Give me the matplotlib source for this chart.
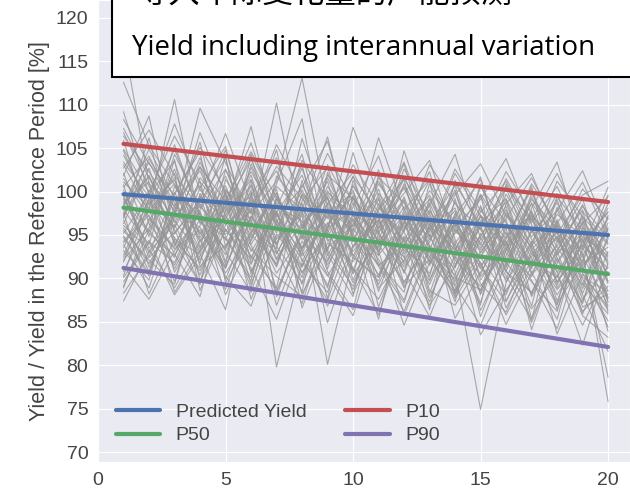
import matplotlib
matplotlib.use("Agg")
import matplotlib.pyplot as plt
import seaborn as sns
from matplotlib.patches import Rectangle

# simulated yearly yields [% of reference period], one row per run, years 1..20
years = list(range(1, 21))
sim_runs = [
    [104.2, 98.5, 101.3, 95.1, 99.8, 92.4, 97.6, 101.9, 94.3, 96.8, 90.2, 95.7, 99.1, 93.4, 88.6, 94.9, 97.3, 89.5, 93.8, 91.2],
    [96.3, 102.7, 93.8, 99.4, 91.6, 103.2, 96.5, 90.1, 98.7, 92.3, 97.9, 101.4, 89.8, 95.2, 99.6, 87.4, 92.8, 96.1, 88.3, 94.5],
    [92.1, 95.8, 105.4, 97.2, 94.6, 89.7, 101.8, 98.3, 93.1, 104.5, 95.4, 88.9, 96.2, 100.7, 91.5, 94.3, 86.8, 98.2, 92.6, 86.9],
    [100.8, 91.3, 97.5, 103.9, 96.2, 99.1, 88.6, 95.4, 101.2, 90.6, 93.8, 97.3, 92.5, 87.9, 96.4, 99.2, 90.7, 85.3, 95.9, 89.4],
    [98.4, 104.9, 99.2, 91.7, 102.5, 95.8, 93.4, 106.1, 97.5, 94.2, 100.3, 91.6, 95.9, 98.1, 90.2, 93.5, 97.6, 92.4, 87.1, 97.3],
    [89.6, 94.2, 91.8, 98.6, 93.1, 88.4, 96.7, 92.2, 87.5, 95.8, 91.4, 86.2, 93.7, 89.1, 84.6, 91.8, 88.3, 93.1, 85.7, 83.2],
    [107.3, 101.6, 96.4, 102.8, 98.9, 104.6, 99.3, 94.7, 103.1, 97.6, 95.2, 101.5, 96.8, 93.2, 99.7, 95.1, 91.3, 97.4, 94.8, 92.6],
    [94.7, 90.3, 99.9, 94.5, 88.7, 97.2, 91.5, 99.6, 90.8, 86.4, 98.2, 94.1, 87.3, 95.6, 92.4, 88.1, 95.5, 90.2, 96.4, 87.8],
    [101.5, 97.1, 93.6, 100.4, 105.2, 93.9, 98.8, 89.3, 95.9, 101.8, 92.7, 96.4, 102.3, 91.6, 94.8, 100.4, 93.2, 88.7, 92.1, 98.6],
    [95.2, 99.8, 88.4, 93.2, 97.4, 100.6, 94.1, 97.8, 84.9, 93.5, 99.1, 89.4, 94.6, 97.8, 86.3, 92.6, 98.7, 94.6, 89.9, 85.1],
    [112.6, 105.3, 100.8, 96.9, 91.3, 98.5, 102.4, 96.1, 99.4, 89.8, 96.5, 103.2, 93.1, 90.4, 97.3, 89.6, 94.1, 99.8, 91.4, 95.7],
    [90.8, 96.6, 102.1, 88.6, 95.7, 91.2, 85.3, 93.6, 97.2, 91.1, 87.6, 93.8, 98.4, 88.2, 93.1, 96.8, 85.4, 91.7, 97.2, 90.3],
    [99.3, 93.5, 97.1, 106.8, 99.6, 94.3, 100.9, 108.4, 92.6, 98.2, 104.1, 95.3, 90.2, 101.3, 95.6, 91.2, 99.4, 93.6, 89.2, 96.4],
    [97.6, 88.2, 94.5, 92.8, 86.4, 99.7, 93.2, 87.1, 96.3, 99.4, 88.9, 92.1, 96.7, 85.4, 90.7, 95.3, 89.8, 84.2, 93.5, 88.6],
    [103.4, 99.4, 107.8, 100.2, 96.8, 102.3, 97.1, 100.5, 105.8, 95.1, 101.6, 98.7, 94.5, 99.6, 103.2, 97.2, 93.6, 101.2, 97.1, 93.9],
    [93.5, 100.2, 95.6, 89.3, 101.4, 96.7, 90.6, 94.9, 89.2, 97.3, 93.1, 84.6, 91.8, 96.2, 89.4, 86.1, 93.3, 96.5, 91.2, 84.4],
    [88.3, 92.6, 97.3, 95.9, 90.2, 86.8, 95.1, 91.3, 98.1, 88.2, 94.6, 90.9, 85.6, 92.7, 97.1, 90.9, 86.5, 90.3, 84.6, 90.8],
    [105.9, 96.3, 92.4, 101.6, 97.9, 107.5, 95.6, 102.7, 94.7, 100.6, 96.2, 99.8, 103.6, 94.5, 88.3, 98.6, 102.1, 95.1, 99.6, 101.2],
    [96.9, 103.8, 98.7, 93.4, 104.1, 90.5, 99.2, 93.5, 101.6, 94.9, 85.3, 97.6, 92.4, 98.8, 93.8, 101.5, 96.2, 87.4, 94.3, 89.7],
    [91.4, 87.6, 93.2, 97.5, 92.7, 101.3, 87.9, 96.2, 90.4, 85.7, 95.3, 99.1, 88.6, 86.9, 91.9, 84.7, 90.6, 94.9, 88.1, 81.6],
    [102.1, 94.8, 104.3, 98.3, 95.1, 97.8, 105.4, 99.8, 96.9, 103.1, 98.4, 94.3, 100.1, 96.5, 92.3, 99.7, 94.8, 97.8, 102.4, 95.3],
    [98.8, 101.1, 90.7, 96.1, 100.7, 93.1, 97.8, 88.2, 93.6, 96.1, 102.5, 92.8, 97.2, 91.3, 99.5, 93.4, 89.6, 86.2, 95.4, 92.1],
    [87.4, 93.1, 96.2, 90.4, 97.8, 99.4, 92.3, 97.3, 80.1, 92.4, 90.1, 96.6, 87.8, 94.1, 83.5, 88.7, 92.5, 95.3, 86.7, 88.2],
    [109.2, 99.7, 103.5, 94.7, 100.3, 96.2, 110.2, 95.8, 99.9, 97.3, 93.5, 100.9, 95.3, 102.6, 97.8, 94.6, 100.3, 92.7, 96.3, 99.4],
    [94.1, 97.3, 89.6, 99.8, 94.4, 102.8, 96.1, 90.7, 95.3, 100.2, 91.8, 88.4, 99.3, 93.6, 87.2, 96.3, 91.1, 99.1, 90.6, 86.4],
    [100.2, 92.9, 99.8, 104.6, 89.5, 95.1, 91.7, 98.9, 102.8, 93.6, 97.4, 93.5, 90.6, 97.2, 101.4, 92.1, 97.8, 89.6, 93.9, 97.7],
    [97.1, 106.2, 94.3, 91.2, 96.6, 88.9, 99.5, 93.4, 97.6, 90.5, 99.8, 96.1, 92.1, 88.3, 94.5, 98.3, 87.9, 93.2, 98.5, 91.5],
    [93.2, 89.8, 100.6, 96.5, 93.5, 100.2, 79.8, 91.8, 88.4, 96.9, 92.2, 87.5, 95.8, 90.8, 74.9, 89.5, 95.6, 91.5, 87.3, 94.9],
    [106.4, 102.3, 97.7, 109.6, 103.3, 97.4, 101.2, 113.1, 98.2, 95.4, 106.2, 97.9, 101.4, 95.9, 99.1, 103.8, 96.4, 100.6, 94.2, 97.6],
    [90.3, 98.9, 92.8, 87.9, 99.2, 93.8, 88.4, 95.1, 91.9, 98.7, 86.7, 94.7, 89.3, 95.8, 91.3, 87.3, 93.9, 88.1, 92.7, 78.6],
    [99.9, 95.4, 102.6, 93.6, 97.3, 91.6, 98.2, 104.3, 93.2, 89.1, 95.7, 101.8, 94.9, 89.6, 96.7, 93.7, 99.1, 95.7, 85.9, 93.1],
    [95.8, 91.7, 96.9, 100.7, 91.9, 104.1, 93.7, 89.5, 99.7, 94.8, 90.4, 97.2, 86.4, 99.2, 88.1, 95.8, 84.1, 92.8, 96.9, 87.2],
    [101.8, 108.7, 95.1, 99.1, 106.7, 98.6, 93.9, 100.8, 95.5, 107.4, 99.6, 92.4, 98.5, 104.3, 94.6, 90.8, 98.1, 103.4, 93.5, 100.5],
    [89.1, 95.6, 91.5, 97.8, 88.1, 94.5, 100.3, 86.6, 94.1, 91.9, 97.3, 85.7, 93.4, 88.5, 95.2, 90.3, 85.2, 96.8, 89.4, 85.9],
    [117.5, 100.9, 98.4, 102.4, 95.4, 99.9, 96.4, 103.1, 91.1, 99.3, 94.1, 98.9, 91.7, 97.1, 93.5, 97.9, 92.3, 86.9, 97.7, 94.1],
    [96.1, 93.3, 88.9, 94.3, 99.5, 87.6, 94.8, 97.6, 92.8, 87.9, 101.9, 93.1, 97.9, 92.6, 86.9, 100.9, 94.5, 90.8, 82.3, 91.8],
    [104.7, 97.9, 110.6, 96.3, 101.8, 94.7, 99.9, 93.2, 100.6, 96.5, 92.6, 104.7, 96.1, 93.3, 98.2, 91.6, 97.2, 94.2, 100.3, 96.8],
    [92.7, 99.1, 94.7, 90.9, 96.1, 101.9, 92.8, 98.7, 87.7, 101.3, 93.9, 89.6, 94.2, 100.2, 89.8, 94.5, 100.6, 88.9, 93.1, 75.8],
    [98.2, 103.4, 97.6, 105.7, 93.7, 96.9, 104.8, 91.9, 97.9, 93.1, 96.8, 100.6, 93.8, 91.2, 100.9, 92.9, 90.2, 97.9, 91.8, 99.6],
    [94.9, 90.6, 99.4, 92.1, 98.4, 90.8, 96.3, 88.4, 102.2, 94.7, 89.3, 95.5, 101.3, 87.7, 92.6, 96.1, 91.6, 95.4, 90.1, 88.5],
    [99.1, 95.2, 92.6, 97.9, 102.6, 96.4, 91.3, 99.7, 95.2, 90.9, 98.6, 94.4, 89.7, 97.5, 94.1, 89.9, 96.9, 91.9, 95.3, 90.4],
    [103.1, 97.6, 100.9, 94.2, 98.3, 103.7, 97.3, 92.8, 100.1, 95.9, 101.2, 95.8, 99.6, 94.1, 97.6, 101.2, 95.3, 98.7, 92.6, 96.9],
    [91.9, 99.3, 95.8, 101.2, 89.9, 97.1, 93.9, 100.2, 94.6, 88.7, 96.1, 91.3, 95.1, 87.3, 98.4, 90.7, 88.4, 94.1, 99.2, 89.6],
    [97.9, 93.9, 103.7, 89.7, 95.6, 92.2, 99.1, 95.3, 88.9, 99.6, 93.2, 98.3, 88.2, 96.8, 91.1, 97.6, 93.5, 87.1, 91.7, 93.6],
    [106.8, 100.6, 95.9, 103.4, 97.2, 101.4, 94.5, 97.4, 104.4, 98.8, 94.3, 102.6, 97.4, 92.2, 100.5, 96.4, 91.8, 99.4, 95.5, 91.9],
    [93.9, 88.9, 97.8, 93.1, 99.9, 89.3, 97.5, 92.6, 96.4, 91.2, 85.8, 94.9, 91.5, 97.1, 85.6, 93.2, 97.3, 86.4, 94.5, 83.9],
    [100.5, 104.1, 98.1, 95.3, 91.1, 99.6, 103.9, 94.5, 98.6, 102.2, 96.9, 90.7, 100.9, 95.4, 93.3, 99.1, 93.9, 96.2, 88.8, 95.9],
    [95.5, 92.1, 89.3, 99.5, 96.7, 92.6, 88.9, 101.3, 92.1, 97.4, 88.5, 96.5, 92.9, 89.9, 96.2, 86.6, 92.1, 90.1, 95.2, 87.7],
    [102.7, 107.1, 101.9, 98.1, 104.8, 95.1, 100.6, 97.9, 106.3, 94.3, 100.9, 96.7, 93.2, 100.9, 96.1, 102.3, 97.5, 93.1, 98.3, 94.6],
    [88.9, 96.9, 93.4, 95.6, 91.3, 98.1, 86.9, 94.3, 90.3, 95.1, 91.6, 87.2, 96.3, 90.1, 88.7, 94.1, 84.9, 92.3, 86.2, 89.1],
    [98.6, 101.7, 96.6, 92.9, 98.8, 105.6, 96.8, 91.4, 97.4, 99.9, 93.1, 99.4, 91.9, 96.1, 101.7, 91.4, 99.8, 94.4, 90.9, 97.1],
    [96.7, 90.8, 98.3, 102.9, 94.8, 90.1, 98.4, 96.6, 91.6, 96.3, 99.3, 90.6, 97.7, 93.9, 90.4, 97.4, 92.9, 89.2, 96.6, 92.8],
    [101.1, 98.1, 104.9, 97.4, 93.3, 100.8, 95.2, 103.6, 99.1, 92.6, 97.9, 103.4, 95.6, 99.9, 92.9, 96.9, 101.6, 95.9, 93.3, 98.1],
    [90.1, 94.4, 88.1, 92.6, 97.1, 93.4, 90.2, 87.9, 95.6, 89.5, 94.9, 92.5, 86.9, 91.4, 95.9, 88.4, 94.3, 83.6, 90.5, 86.7],
    [108.3, 103.2, 99.6, 105.1, 100.1, 97.6, 102.9, 99.2, 95.9, 101.7, 97.6, 95.4, 103.1, 98.6, 95.7, 100.6, 96.7, 102.1, 95.9, 92.4],
    [94.3, 97.8, 101.6, 91.4, 93.8, 98.8, 92.1, 96.4, 99.3, 92.7, 89.7, 97.9, 93.7, 88.6, 97.3, 94.2, 88.1, 96.2, 91.1, 95.6],
    [99.6, 92.4, 95.3, 98.8, 103.9, 91.8, 97.7, 90.6, 95.8, 97.8, 91.5, 93.9, 98.7, 92.1, 89.1, 93.3, 98.6, 90.7, 94.7, 87.4],
    [92.4, 97.9, 91.1, 96.9, 90.6, 95.3, 99.8, 93.1, 86.8, 93.8, 96.7, 89.1, 92.2, 96.4, 91.7, 85.8, 91.4, 94.8, 87.6, 91.3],
    [104.9, 99.9, 106.4, 101.1, 97.6, 104.3, 98.4, 95.7, 101.9, 99.2, 95.8, 100.4, 94.8, 102.1, 97.2, 93.9, 100.9, 96.3, 101.1, 94.7],
    [97.3, 101.9, 94.1, 89.4, 100.1, 95.6, 92.9, 98.1, 93.4, 100.8, 95.1, 91.9, 96.9, 89.2, 94.9, 98.8, 90.4, 93.7, 97.9, 86.1],
]

# trend lines: value in year 1 and year 20
trend_years = [1, 20]
predicted = [99.7, 95.0]
p10 = [105.5, 98.8]
p50 = [98.15, 90.5]
p90 = [91.2, 82.1]

sns.set_style("darkgrid")
plt.rcParams["font.family"] = ["Liberation Sans", "DejaVu Sans"]

fig = plt.figure(figsize=(6.3, 4.92), dpi=100)
ax = fig.add_axes([98 / 630, 30 / 492, 532 / 630, 462 / 492])

for run in sim_runs:
    ax.plot(years, run, color="#959595", lw=0.8, alpha=0.8)

ax.plot(trend_years, predicted, color="#4C72B0", lw=3, label="Predicted Yield")
ax.plot(trend_years, p50, color="#55A868", lw=3, label="P50")
ax.plot(trend_years, p10, color="#C44E52", lw=3, label="P10")
ax.plot(trend_years, p90, color="#8172B2", lw=3, label="P90")

ax.set_xlim(0, 20.86)
ax.set_ylim(68.85, 122.07)
ax.set_xticks([0, 5, 10, 15, 20])
ax.set_yticks(range(70, 121, 5))
ax.tick_params(labelsize=14, colors="#444444")
ax.set_ylabel("Yield / Yield in the Reference Period [%]", fontsize=15.5, color="#444444")

ax.legend(loc="lower left", ncol=2, fontsize=14, frameon=False,
          handlelength=2.3, labelspacing=0.3, labelcolor="#444444")

# title box pasted over the top of the plot
fig.patches.append(Rectangle((112 / 630, 1 - 77 / 492), 0.9, 0.2,
                             transform=fig.transFigure, facecolor="white",
                             edgecolor="black", lw=1.5, zorder=10))
fig.text(137 / 630, 1 + 6 / 492, "导入年际变化量的产能预测", fontsize=22.5,
         family=["Noto Sans CJK SC", "DejaVu Sans"], va="center", ha="left",
         color="black", zorder=11)
fig.text(132 / 630, 1 - 55 / 492, "Yield including interannual variation",
         fontsize=19.9, family=["Open Sans", "DejaVu Sans"], va="baseline",
         ha="left", color="black", zorder=11)

fig.savefig("out.png", dpi=100)
